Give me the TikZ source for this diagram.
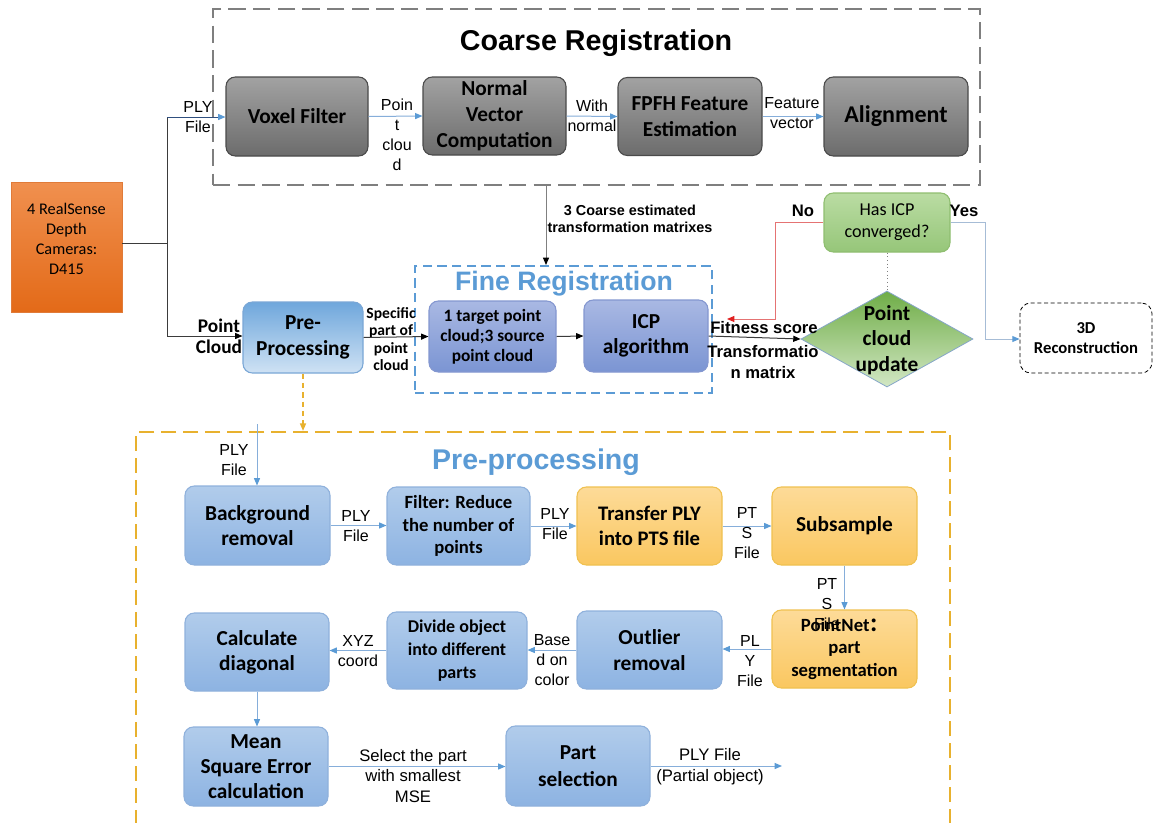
\documentclass[tikz,border=0pt]{standalone}
\usepackage{fontspec}
\setmainfont{Carlito}
\newfontfamily\arial{Liberation Sans}
\newfontfamily\cjk{Noto Sans CJK SC}
\usetikzlibrary{shapes.geometric, arrows.meta, calc}

\newcommand\setfs[2]{\fontsize{#1}{#2}\selectfont}

\definecolor{gtop}{HTML}{A2A2A2}
\definecolor{gbot}{HTML}{6C6C6C}
\definecolor{gborder}{HTML}{4A4A4A}
\definecolor{camtop}{HTML}{F0904F}
\definecolor{cambot}{HTML}{E36A18}
\definecolor{camborder}{HTML}{E07B39}
\definecolor{pretop}{HTML}{6FA7DC}
\definecolor{prebot}{HTML}{CFE2F4}
\definecolor{preborder}{HTML}{7AA7D6}
\definecolor{ftop}{HTML}{A9B8E3}
\definecolor{fbot}{HTML}{7B95D3}
\definecolor{fborder}{HTML}{8497D0}
\definecolor{btop}{HTML}{B1CCEB}
\definecolor{bbot}{HTML}{8DB3E2}
\definecolor{bborder}{HTML}{8FB1DC}
\definecolor{otop}{HTML}{FDDB98}
\definecolor{obot}{HTML}{FAC760}
\definecolor{oborder}{HTML}{F0C150}
\definecolor{hgtop}{HTML}{BADCA3}
\definecolor{hgbot}{HTML}{96C679}
\definecolor{hgborder}{HTML}{8FBE70}
\definecolor{dtop}{HTML}{6FAD47}
\definecolor{dbot}{HTML}{D2E7C4}
\definecolor{dborder}{HTML}{86A6C8}
\definecolor{accent}{HTML}{5B9BD5}
\definecolor{lineblue}{HTML}{86AEDA}
\definecolor{coarsegray}{HTML}{7F7F7F}
\definecolor{ppyellow}{HTML}{E8B12E}
\definecolor{nored}{HTML}{E57373}
\definecolor{tipred}{HTML}{E02020}
\definecolor{yesline}{HTML}{A6BCD6}
\definecolor{navy}{HTML}{2F4F7F}
\definecolor{darkline}{HTML}{3B3B3B}

\begin{document}
\begin{tikzpicture}[x=0.75pt, y=-0.75pt,
  sz/.style 2 args={minimum width=#1*0.75pt, minimum height=#2*0.75pt},
  boxbase/.style={rounded corners=7pt, align=center, inner sep=1pt, line width=0.8pt},
  gbox/.style={boxbase, draw=gborder, top color=gtop, bottom color=gbot,
    font=\bfseries\setfs{16}{19.5}},
  cambox/.style={draw=camborder, line width=0.6pt, top color=camtop, bottom color=cambot},
  prebox/.style={boxbase, draw=preborder, top color=pretop, bottom color=prebot,
    font=\bfseries\setfs{16}{19.5}},
  finebox/.style={boxbase, draw=fborder, top color=ftop, bottom color=fbot,
    font=\bfseries\setfs{16}{19}},
  bluebox/.style={boxbase, draw=bborder, top color=btop, bottom color=bbot,
    font=\bfseries\setfs{16}{19}},
  orbox/.style={boxbase, draw=oborder, top color=otop, bottom color=obot,
    font=\bfseries\setfs{16}{19}},
  hgbox/.style={boxbase, draw=hgborder, top color=hgtop, bottom color=hgbot,
    font=\setfs{13.6}{16.5}},
  updshape/.style={diamond, draw=dborder, line width=0.6pt, top color=dtop, bottom color=dbot,
    inner sep=0pt, sz={172}{96}},
  recon/.style={draw=black, line width=0.6pt, dash pattern=on 3pt off 2pt, rounded corners=8pt,
    align=center, font=\bfseries\setfs{12.5}{15}},
  coarsedash/.style={draw=coarsegray, line width=2pt, dash pattern=on 13pt off 5.5pt},
  finedash/.style={draw=accent, line width=1.5pt, dash pattern=on 7pt off 4pt},
  ppdash/.style={draw=ppyellow, line width=1.8pt, dash pattern=on 11pt off 5.5pt},
  title/.style={font=\arial\bfseries\setfs{21.5}{25}, inner sep=0pt},
  lbl/.style={font=\arial\setfs{12}{15}, align=center, inner sep=0pt},
  lblbig/.style={font=\arial\setfs{12.5}{15.4}, align=center, inner sep=0pt},
  lblbold/.style={font=\arial\bfseries\setfs{12.5}{15.75}, align=center, inner sep=0pt},
  cbl/.style={font=\bfseries, align=center, inner sep=0pt},
  barrow/.style={draw=lineblue, line width=0.75pt, -{Triangle[length=5.5pt,width=4.5pt,color=accent]}},
  karrow/.style={draw=darkline, line width=0.75pt, -{Triangle[length=5.5pt,width=4.5pt,color=black]}},
  garrow/.style={draw=gray, line width=0.75pt, -{Triangle[length=5.5pt,width=4.5pt,color=black]}},
  kline/.style={draw=darkline, line width=0.75pt},
]
\useasboundingbox (0,0) rectangle (1157,822);
\clip (0,0) rectangle (1157,822);
\fill[white] (0,0) rectangle (1157,822);

% ---------------- coarse registration ----------------
\node[coarsedash, sz={767}{176}] (coarse) at (596.5,97) {};
\node[title] (coarsetitle) at (596,43) {Coarse Registration};

\node[gbox, sz={142}{79}, font=\bfseries\setfs{16}{19.5}] (voxel) at (297,116.5) {Voxel Filter};
\node[gbox, sz={143}{78}] (normal) at (494.5,116) {Normal\\Vector\\Computation};
\node[gbox, sz={144}{78}, font=\bfseries\setfs{16}{20}] (fpfh) at (690,116.5) {FPFH Feature\\Estimation};
\node[gbox, sz={144}{79}, font=\bfseries\setfs{18}{21}] (align) at (896,116.5) {Alignment};

\draw[barrow] (voxel.east) -- (normal.west);
\draw[barrow] (normal.east) -- (fpfh.west);
\draw[barrow] (fpfh.east) -- (align.west);

\node[lbl] (lply) at (198,117) {PLY\\File};
\node[lbl] (lpc) at (397,134.5) {Poin\\t\\clou\\d};
\node[lbl] (lwn) at (592,115.5) {With\\normal};
\node[lbl] (lfv) at (792,113) {Feature\\vector};

% ---------------- cameras and split ----------------
\node[cambox, sz={111}{130}] (cam) at (66.5,247) {};
\node[align=center, inner sep=0pt, font=\setfs{12.2}{15.2}] (camlbl) at (66.5,239)
  {4 RealSense\\Depth\\Cameras:\\D415};

\coordinate (jtop) at (167,117);
\coordinate (jmid) at (167,243);
\coordinate (jbot) at (167,336);
\draw[kline] (jmid -| cam.east) -- (jmid);
\draw[kline] (jtop) -- (jbot);
\draw[draw=navy, line width=0.75pt, -{Triangle[length=5.5pt,width=4.5pt,color=accent]}]
  (jtop) -- (jtop -| voxel.west);

% ---------------- fine registration ----------------
\node[prebox, sz={120}{71}] (pre) at (303,337.5) {Pre-\\Processing};
\draw[karrow] (jbot) -- (jbot -| pre.west);
\node[cbl, font=\bfseries\setfs{14.5}{15.75}] (lptc) at (219,336.5) {Point\\Cloud};

\node[finedash, sz={297}{127}] (fine) at (563.5,329.5) {};
\node[title, text=accent, font=\arial\bfseries\setfs{20}{24}] (finetitle) at (564,284) {Fine Registration};
\node[finebox, sz={127}{71}, font=\bfseries\setfs{13}{15}] (tgt) at (492.5,336.5)
  {1 target point\\cloud;3 source\\point cloud};
\node[finebox, sz={124}{72}] (icp) at (646,336) {ICP\\algorithm};

\node[cbl, font=\bfseries\setfs{11.7}{13}] (lspec) at (391,339) {Specific\\part of\\point\\cloud};

\draw[karrow] (pre.east) -- (tgt.west);
\draw[karrow] (tgt.east) -- (icp.west);

\coordinate (cx) at (546,0);
\draw[garrow] (coarse.south -| cx) -- (fine.north -| cx);
\node[font=\arial\bfseries\setfs{10.8}{12.75}, align=center, inner sep=0pt] (lcoarse) at (630,218.5)
  {3 Coarse estimated\\transformation matrixes};

% ---------------- convergence loop ----------------
\node[updshape] (upd) at (887,339) {};
\node[font=\bfseries\setfs{16}{19}, align=center, inner sep=0pt] (updlbl) at (887,340) {Point\\cloud\\update};
\draw[karrow] (icp.east) -- (upd.west);
\node[lblbold] (lfit) at (764,328) {Fitness score};
\node[lblbold] (ltm) at (763,362.5) {Transformatio\\n matrix};

\node[hgbox, sz={126}{59}] (hasicp) at (887,222.5) {Has ICP\\converged?};
\draw[draw=gray, line width=0.75pt, dotted] (hasicp.south) -- (upd.north);

\coordinate (nok) at (775,319);
\coordinate (noend) at (727,319);
\draw[draw=nored, line width=0.75pt, -{Triangle[length=5.5pt,width=4.5pt,color=tipred]}]
  (hasicp.west) -| (nok) -- (noend);
\node[lblbold] (lno) at (803,211) {No};

\node[recon, sz={132}{70}] (rec) at (1086,338) {3D\\Reconstruction};
\coordinate (yk) at (985,339);
\draw[draw=yesline, line width=0.75pt, -{Triangle[length=5.5pt,width=4.5pt,color=accent]}]
  (hasicp.east) -| (yk) -- (yk -| rec.west);
\node[lblbold] (lyes) at (964,211) {Yes};

% ---------------- pre-processing detail ----------------
\node[ppdash, sz={814}{480}] (pp) at (543,672) {};
\draw[draw=ppyellow, line width=1pt, dash pattern=on 4pt off 3pt,
  -{Triangle[length=5.5pt,width=4.5pt,color=ppyellow]}] (pre.south) -- (pre.south |- pp.north);
\node[title, text=accent, font=\arial\bfseries\setfs{21.4}{25}] (pptitle) at (536,462) {Pre-processing};

\node[bluebox, sz={145}{79}] (br) at (257.5,525.5) {Background\\removal};
\node[bluebox, sz={143}{78}, font=\bfseries\setfs{14}{17}] (filt) at (458.5,526) {Filter: Reduce\\the number of\\points};
\node[orbox, sz={145}{78}, font=\bfseries\setfs{15.5}{19}] (trans) at (649.5,526) {Transfer PLY\\into PTS file};
\node[orbox, sz={145}{78}] (subs) at (844.5,526) {Subsample};
\node[orbox, sz={145}{78}, font=\bfseries\setfs{14}{17}] (pnet) at (844.5,649) {PointNet{\cjk ：}\\part\\segmentation};
\node[bluebox, sz={145}{78}] (outl) at (649.5,650) {Outlier\\removal};
\node[bluebox, sz={140}{77}, font=\bfseries\setfs{13.5}{17}] (divd) at (457,650.5) {Divide object\\into different\\parts};
\node[bluebox, sz={144}{78}] (calc) at (257,652) {Calculate\\diagonal};
\node[bluebox, sz={144}{79}] (mse) at (256,766.5) {Mean\\Square Error\\calculation};
\node[bluebox, sz={144}{80}, font=\bfseries\setfs{16}{20}] (part) at (578,766) {Part\\selection};

\coordinate (plyin) at (257,424);
\draw[barrow] (plyin) -- (plyin |- br.north);
\draw[barrow] (br.east) -- (br.east -| filt.west);
\draw[barrow] (filt.east) -- (filt.east -| trans.west);
\draw[barrow] (trans.east) -- (trans.east -| subs.west);
\draw[barrow] (subs.south) -- (subs.south |- pnet.north);
\draw[barrow] (pnet.west) -- (pnet.west -| outl.east);
\draw[barrow] (outl.west) -- (outl.west -| divd.east);
\draw[barrow] (divd.west) -- (divd.west -| calc.east);
\draw[barrow] (calc.south) -- (calc.south |- mse.north);
\draw[barrow] (mse.east) -- (mse.east -| part.west);
\coordinate (outend) at (782,766);
\draw[barrow] (part.east) -- (part.east |- outend) -- (outend);

\node[lbl] (l1) at (234,460) {PLY\\File};
\node[lbl] (l2) at (356,526) {PLY\\File};
\node[lbl] (l3) at (555,524) {PLY\\File};
\node[lbl] (l4) at (747,533) {PT\\S\\File};
\node[lbl] (l5) at (827,604) {PT\\S\\File};
\node[lbl] (l6) at (750,661) {PL\\Y\\File};
\node[lbl] (l7) at (552,660) {Base\\d on\\color};
\node[lbl] (l8) at (358,651) {XYZ\\coord};
\node[lblbig] (l9) at (413,776) {Select the part\\with smallest\\MSE};
\node[lblbig] (l10) at (710,766.5) {PLY File\\(Partial object)};
\end{tikzpicture}
\end{document}
